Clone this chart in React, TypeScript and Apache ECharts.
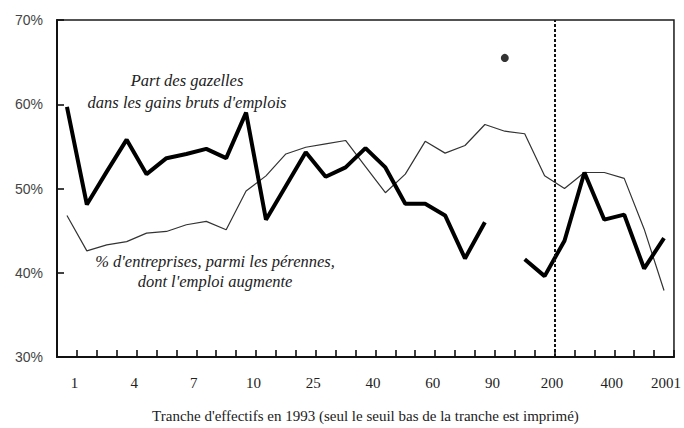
import React, { useEffect, useRef } from "react";
import * as echarts from "echarts";

const categories = [
  "1", "2", "3", "4", "5", "6", "7", "8", "9", "10",
  "15", "20", "25", "30", "35", "40", "45", "50", "60", "70",
  "80", "90", "100", "150", "200", "250", "300", "400", "500", "1000", "2001",
];

const gazelles = [
  59.7, 48.1, 52.0, 55.8, 51.7, 53.6, 54.1, 54.7, 53.6, 59.0,
  46.3, 50.3, 54.3, 51.4, 52.5, 54.8, 52.5, 48.2, 48.2, 46.8,
  41.7, 46.0, null, 41.6, 39.6, 43.8, 51.9, 46.3, 46.9, 40.5, 44.1,
];

const entreprises = [
  46.8, 42.6, 43.3, 43.7, 44.7, 44.9, 45.7, 46.1, 45.1, 49.7,
  51.5, 54.1, 54.9, 55.3, 55.7, 52.6, 49.5, 51.7, 55.6, 54.2,
  55.1, 57.6, 56.8, 56.5, 51.5, 50.0, 51.9, 51.9, 51.2, 45.2, 37.9,
];

const outlierCategory = "100";
const outlierValue = 65.5;

const thresholdBoundary = 25;

const yMin = 30;
const yMax = 70;
const yStep = 10;

const xAxisTitle =
  "Tranche d'effectifs en 1993 (seul le seuil bas de la tranche est imprimé)";
const labelGazelles = "Part des gazelles\ndans les gains bruts d'emplois";
const labelEntreprises =
  "% d'entreprises, parmi les pérennes,\ndont l'emploi augmente";

export default function App() {
  const ref = useRef<HTMLDivElement>(null);

  useEffect(() => {
    document.body.style.margin = "0";
    if (!ref.current) return;
    const chart = echarts.init(ref.current, null, { renderer: "svg" });
    const serif = "Liberation Serif";
    const last = categories.length - 1;

    chart.setOption({
      animation: false,
      backgroundColor: "#ffffff",
      grid: {
        left: 57,
        right: 9,
        top: 20,
        bottom: 70,
        show: true,
        backgroundColor: "transparent",
        borderColor: "#1a1a1a",
        borderWidth: 1.5,
      },
      xAxis: [
        {
          type: "category",
          data: categories,
          boundaryGap: true,
          position: "bottom",
          name: xAxisTitle,
          nameLocation: "middle",
          nameGap: 51,
          nameTextStyle: { fontFamily: serif, fontSize: 15, color: "#222" },
          axisLine: { show: true, lineStyle: { color: "#111", width: 2 } },
          axisTick: {
            show: true,
            inside: false,
            length: -7,
            interval: 0,
            lineStyle: { color: "#111111", width: 1.6 },
          },
          axisLabel: {
            interval: 2,
            margin: 18,
            fontFamily: serif,
            fontSize: 15,
            color: "#222",
            formatter: (v: string, i: number) =>
              i === last ? `{e|${v}}` : `{n|${v}}`,
            rich: {
              n: { padding: [0, 0, 0, 15], fontFamily: serif, fontSize: 15, color: "#222" },
              e: { padding: [0, 0, 0, 4], fontFamily: serif, fontSize: 15, color: "#222" },
            },
          },
          splitLine: { show: false },
        },
        {
          type: "value",
          min: 0,
          max: categories.length,
          show: false,
        },
      ],
      yAxis: {
        type: "value",
        min: yMin,
        max: yMax,
        interval: yStep,
        axisLine: { show: true, lineStyle: { color: "#111", width: 2 } },
        axisTick: {
          show: true,
          inside: false,
          length: -7,
          lineStyle: { color: "#111111", width: 1.6 },
        },
        axisLabel: {
          margin: 14,
          formatter: "{value}%",
          fontFamily: "Liberation Sans",
          fontSize: 14,
          color: "#444",
        },
        splitLine: { show: false },
      },
      series: [
        {
          name: "Gazelles",
          type: "line",
          data: gazelles,
          connectNulls: false,
          showSymbol: false,
          symbol: "none",
          lineStyle: { color: "#000", width: 4 },
          z: 3,
        },
        {
          name: "Entreprises",
          type: "line",
          data: entreprises,
          showSymbol: false,
          symbol: "none",
          lineStyle: { color: "#333", width: 1.2 },
          z: 2,
        },
        {
          name: "Point",
          type: "scatter",
          data: [[outlierCategory, outlierValue]],
          symbol: "circle",
          symbolSize: 8,
          itemStyle: { color: "#000" },
          z: 4,
        },
        {
          name: "Seuil",
          type: "line",
          xAxisIndex: 1,
          data: [],
          markLine: {
            silent: true,
            symbol: "none",
            label: { show: false },
            lineStyle: { color: "#111", width: 2, type: [3, 2] },
            data: [{ xAxis: thresholdBoundary }],
          },
        },
      ],
      graphic: [
        {
          type: "text",
          x: 187,
          y: 69,
          style: {
            text: labelGazelles,
            font: "italic 16.5px 'Liberation Serif'",
            fill: "#222",
            textAlign: "center",
            textVerticalAlign: "top",
            lineHeight: 22,
          },
        },
        {
          type: "text",
          x: 215,
          y: 251,
          style: {
            text: labelEntreprises,
            font: "italic 16.5px 'Liberation Serif'",
            fill: "#222",
            textAlign: "center",
            textVerticalAlign: "top",
            lineHeight: 20,
          },
        },
      ],
    });

    return () => {
      chart.dispose();
    };
  }, []);

  return <div ref={ref} style={{ width: 684, height: 428 }} />;
}
